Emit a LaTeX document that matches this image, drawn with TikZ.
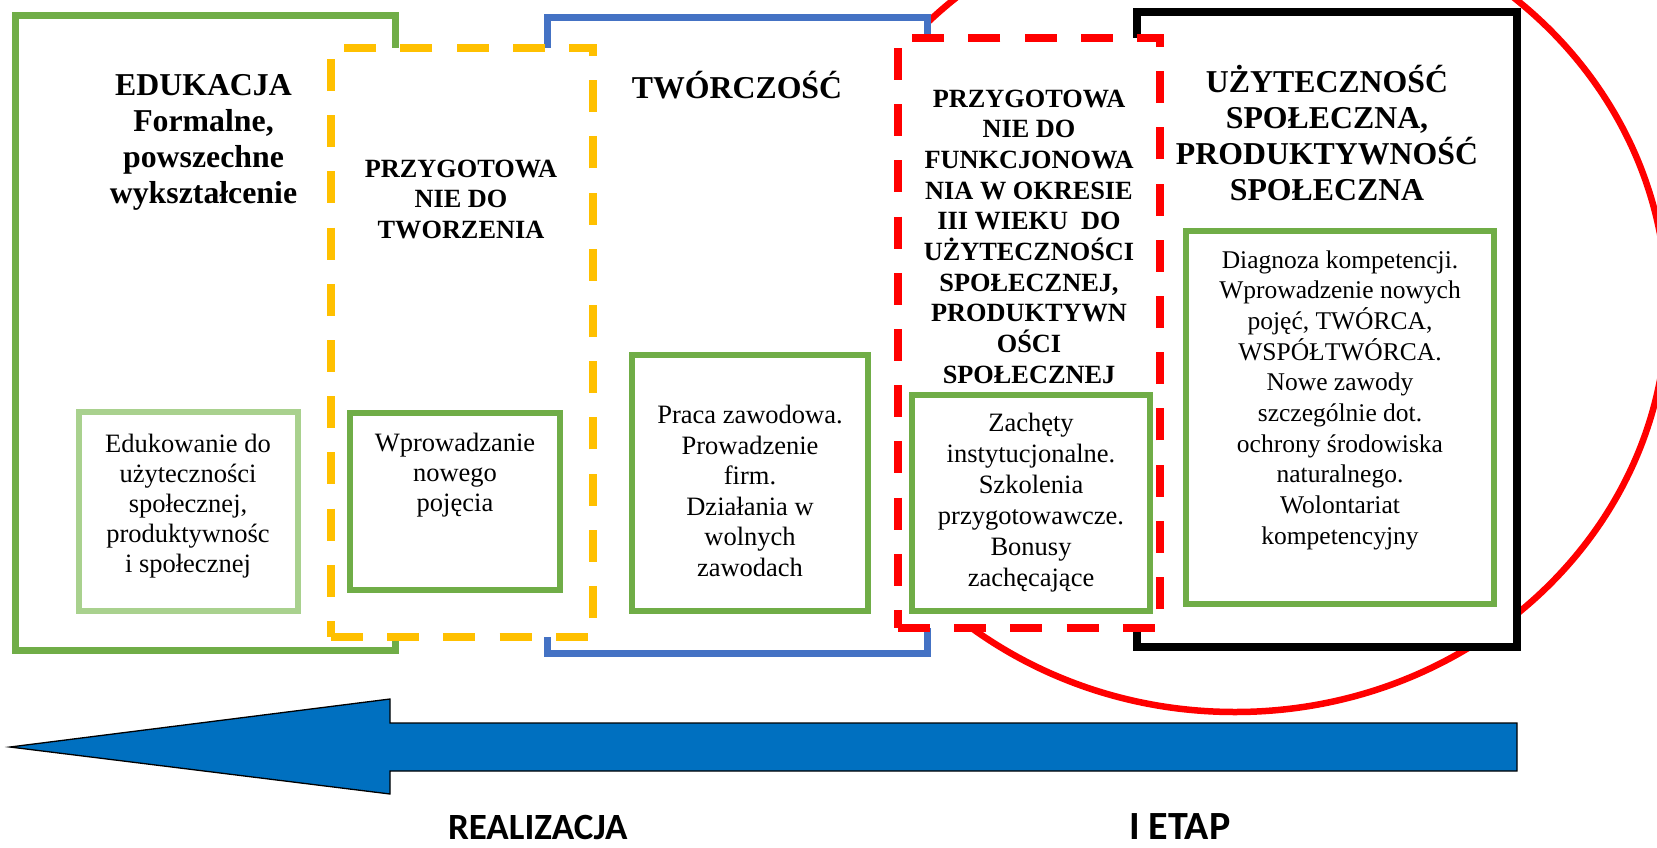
\documentclass[tikz,border=0pt]{standalone}
\usepackage{fontspec}
\setmainfont{Liberation Serif}
\newfontfamily\calibfont{Carlito}
\usepackage{graphicx}
\definecolor{cgreen}{HTML}{70AD47}
\definecolor{clgreen}{HTML}{A9D18E}
\definecolor{cyellow}{HTML}{FFC000}
\definecolor{cblue}{HTML}{4472C4}
\definecolor{cred}{HTML}{FF0000}
\definecolor{carrow}{HTML}{0070C0}
\newcommand\mtext[3]{\parbox[t]{420pt}{\fontsize{#1}{#2}\selectfont\centering #3\par}}
\tikzset{
  outerbox/.style={line width=7pt, fill=white},
  dashbox/.style={fill=white, dash pattern=on 32pt off 24.2pt},
  innerbox/.style={line width=6pt, fill=white},
  ttl/.style={anchor=base, inner sep=0pt, outer sep=0pt, font=\bfseries},
  body/.style={anchor=base, inner sep=0pt, outer sep=0pt},
  lbl/.style={anchor=base west, inner sep=0pt, outer sep=0pt, font=\calibfont\bfseries},
}
\begin{document}
\begin{tikzpicture}[x=1pt, y=-1pt]
\useasboundingbox (0,0) rectangle (1657,847);
\fill[white] (0,0) rectangle (1657,847);
% red ellipse (behind boxes)
\draw[draw=cred, line width=6.5pt] (1235,307) ellipse [x radius=432pt, y radius=405pt];
% outer frames
\draw[outerbox, draw=cgreen] (15,15) rectangle (395,650);
\draw[outerbox, draw=cblue] (547,17) rectangle (927,653);
\draw[outerbox, draw=black, line width=7.5pt] (1137,12) rectangle (1517,647);
% dashed frames
\draw[dashbox, draw=cyellow, line width=8pt] (331,637) -- (593,637) -- (593,48) -- (331,48) -- cycle;
\draw[dashbox, draw=cred, line width=7.3pt] (898,628) -- (1160,628) -- (1160,38) -- (898,38) -- cycle;
% inner boxes
\draw[innerbox, draw=clgreen] (79,412) rectangle (298,611);
\draw[innerbox, draw=cgreen] (350,413) rectangle (560,590);
\draw[innerbox, draw=cgreen] (632,355) rectangle (868,611);
\draw[innerbox, draw=cgreen] (912,395) rectangle (1150,611);
\draw[innerbox, draw=cgreen] (1186,231) rectangle (1494,604);
% titles
\node[ttl] (edu) at (203.5,95) {\mtext{31.8}{36}{EDUKACJA\\Formalne,\\powszechne\\wykształcenie}};
\node[ttl] (prep1) at (461,177) {\mtext{26.3}{30.5}{PRZYGOTOWA\\NIE DO\\TWORZENIA}};
\node[ttl] (tworcz) at (737,98) {\mtext{31.8}{36}{TWÓRCZOŚĆ}};
\node[ttl] (prep2) at (1029,107) {\mtext{26.3}{30.7}{PRZYGOTOWA\\NIE DO\\FUNKCJONOWA\\NIA W OKRESIE\\III WIEKU~~DO\\UŻYTECZNOŚCI\\SPOŁECZNEJ,\\PRODUKTYWN\\OŚCI\\SPOŁECZNEJ}};
\node[ttl] (uzyt) at (1327,92) {\mtext{31.8}{36.3}{UŻYTECZNOŚĆ\\SPOŁECZNA,\\PRODUKTYWNOŚĆ\\SPOŁECZNA}};
% box texts
\node[body] (t1) at (188,452) {\mtext{26.5}{30}{Edukowanie do\\użyteczności\\społecznej,\\produktywnośc\\i społecznej}};
\node[body] (t2) at (455,451) {\mtext{26.5}{30}{Wprowadzanie\\nowego\\pojęcia}};
\node[body] (t3) at (750,423.5) {\mtext{26.5}{30.5}{Praca zawodowa.\\Prowadzenie\\firm.\\Działania w\\wolnych\\zawodach}};
\node[body] (t4) at (1031,431) {\mtext{26.5}{31}{Zachęty\\instytucjonalne.\\Szkolenia\\przygotowawcze.\\Bonusy\\zachęcające}};
\node[body] (t5) at (1340,268) {\mtext{25.5}{30.67}{Diagnoza kompetencji.\\Wprowadzenie nowych\\pojęć, TWÓRCA,\\WSPÓŁTWÓRCA.\\Nowe zawody\\szczególnie dot.\\ochrony środowiska\\naturalnego.\\Wolontariat\\kompetencyjny}};
% big arrow
\draw[fill=carrow, draw=black, line width=1.3pt, line join=miter]
  (1517,723) -- (390,723) -- (390,699) -- (10,747) -- (390,794) -- (390,771) -- (1517,771) -- cycle;
% bottom labels
\node[lbl] (real) at (448,839) {\fontsize{37}{40}\selectfont REALIZACJA};
\node[lbl] (etap) at (1129,839) {\fontsize{40}{42}\selectfont I ETAP};
\end{tikzpicture}
\end{document}
